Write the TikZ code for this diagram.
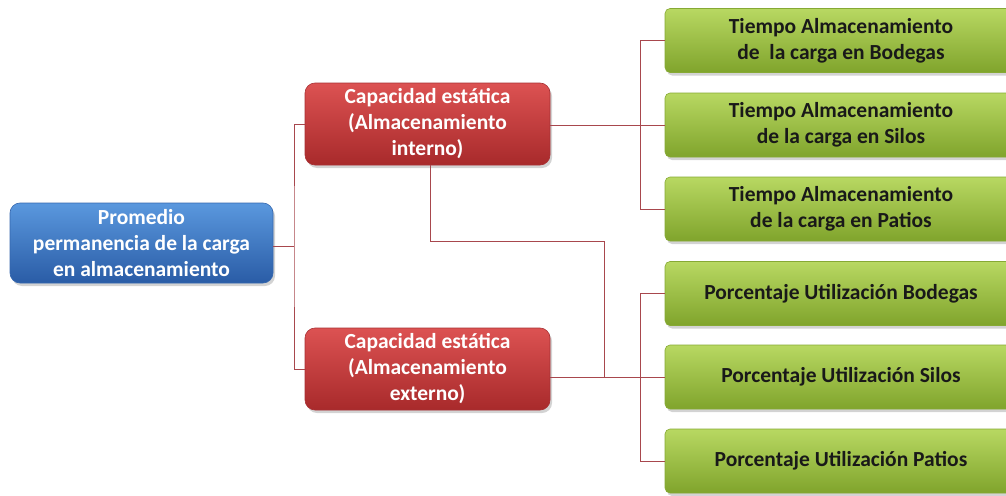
\documentclass[tikz,border=0pt]{standalone}
\usepackage{fontspec}
\setmainfont{Carlito}
\usetikzlibrary{shadows}

\definecolor{linkred}{HTML}{A8474D}
\definecolor{blueTop}{HTML}{5A98DE}
\definecolor{blueMid}{HTML}{3A77CA}
\definecolor{blueBot}{HTML}{2A5CA6}
\definecolor{blueEdge}{HTML}{3567AE}
\definecolor{redTop}{HTML}{DC5252}
\definecolor{redMid}{HTML}{C63838}
\definecolor{redBot}{HTML}{A82A2B}
\definecolor{redEdge}{HTML}{A83034}
\definecolor{grnTop}{HTML}{B8D862}
\definecolor{grnMid}{HTML}{9CC23E}
\definecolor{grnBot}{HTML}{80A42C}
\definecolor{grnEdge}{HTML}{86A934}

\tikzset{
  box/.style={rounded corners=10pt, align=center, inner sep=2pt,
    font=\fontsize{21.5}{26}\selectfont\bfseries,
    drop shadow={shadow xshift=2pt, shadow yshift=-3pt, opacity=0.35}},
  rootbox/.style={box, draw=blueEdge, line width=0.6pt,
    top color=blueTop, middle color=blueMid, bottom color=blueBot,
    text=white, minimum width=263pt, minimum height=80pt},
  midbox/.style={box, draw=redEdge, line width=0.6pt,
    top color=redTop, middle color=redMid, bottom color=redBot,
    text=white, minimum width=245pt, minimum height=82pt},
  leafbox/.style={box, rounded corners=5pt, draw=grnEdge, line width=0.6pt,
    top color=grnTop, middle color=grnMid, bottom color=grnBot,
    text=black!90, minimum width=352pt, minimum height=64pt},
  link/.style={draw=linkred, line width=0.9pt}
}

\begin{document}
\begin{tikzpicture}[x=1pt, y=-1pt]
\clip (0,0) rectangle (1006,495);

% root node
\node[rootbox] (root) at (141.5,243) {Promedio\\permanencia de la carga\\en almacenamiento};

% storage capacity nodes
\node[midbox] (int) at (427.5,124) {Capacidad estática\\(Almacenamiento\\interno)};
\node[midbox] (ext) at (427.5,369) {Capacidad estática\\(Almacenamiento\\externo)};

% time indicators
\node[leafbox] (tb) at (841,40.5) {Tiempo Almacenamiento\\de~ la carga en Bodegas};
\node[leafbox] (ts) at (841,125) {Tiempo Almacenamiento\\de la carga en Silos};
\node[leafbox] (tp) at (841,209) {Tiempo Almacenamiento\\de la carga en Patios};

% utilisation indicators
\node[leafbox] (pb) at (841,293.5) {Porcentaje Utilización Bodegas};
\node[leafbox] (ps) at (841,377) {Porcentaje Utilización Silos};
\node[leafbox] (pp) at (841,461) {Porcentaje Utilización Patios};

% spine coordinates
\coordinate (j1) at (294,246);
\coordinate (s1) at (640,0);
\coordinate (k1) at (430,241);
\coordinate (k2) at (604,241);

% root to capacity nodes
\draw[link] (root.east |- j1) -- (j1);
\draw[link] (int.west) -| (j1) |- (ext.west);

% internal capacity to time indicators
\draw[link] (tb.west) -- (tb.west -| s1) -- (tp.west -| s1) -- (tp.west);
\draw[link] (int.east |- ts.west) -- (ts.west);

% external capacity to utilisation indicators
\draw[link] (pb.west) -- (pb.west -| s1) -- (pp.west -| s1) -- (pp.west);
\draw[link] (ext.east |- ps.west) -- (ps.west);

% internal capacity joining the utilisation branch
\draw[link] (int.south -| k1) -- (k1) -- (k2) -- (k2 |- ps.west);
\end{tikzpicture}
\end{document}
